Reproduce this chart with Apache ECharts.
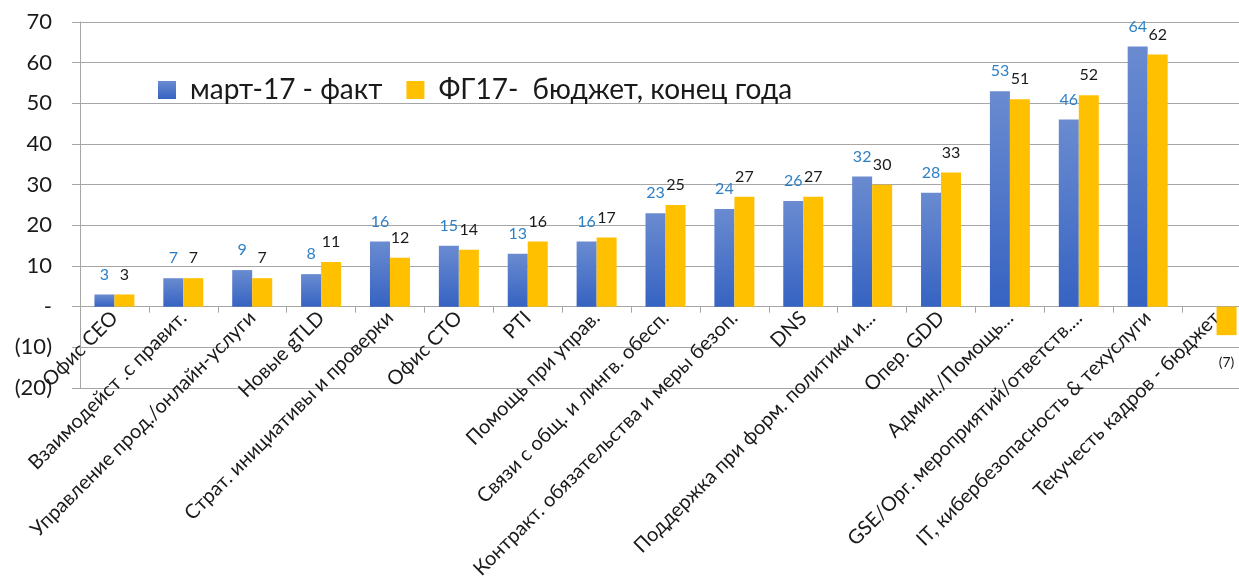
<!DOCTYPE html>
<html>
<head>
<meta charset="utf-8">
<script src="https://cdn.jsdelivr.net/npm/echarts@6/dist/echarts.min.js"></script>
<style>
  html, body { margin: 0; padding: 0; background: #fff; }
  #chart { width: 1239px; height: 584px; }
</style>
</head>
<body>
<div id="chart"></div>
<script>
var categories = [
  'Офис CEO',
  'Взаимодейст .с правит.',
  'Управление прод./онлайн-услуги',
  'Новые gTLD',
  'Страт. инициативы и проверки',
  'Офис CTO',
  'PTI',
  'Помощь при управ.',
  'Связи с общ. и лингв. обесп.',
  'Контракт. обязательства и меры безоп.',
  'DNS',
  'Поддержка при форм. политики и...',
  'Опер. GDD',
  'Админ./Помощь...',
  'GSE/Орг. мероприятий/ответств....',
  'IT, кибербезопасность & техуслуги',
  'Текучесть кадров - бюджет'
];
var factMarch = [3, 7, 9, 8, 16, 15, 13, 16, 23, 24, 26, 32, 28, 53, 46, 64, null];
var budgetFY = [3, 7, 7, 11, 12, 14, 16, 17, 25, 27, 27, 30, 33, 51, 52, 62, -7];

var seriesNames = ['март-17 - факт', 'ФГ17-  бюджет, конец года'];

// формат как в Excel: 0 -> "-", отрицательные в скобках
function fmt(v) {
  if (v === 0) return '-';
  if (v < 0) return '(' + Math.abs(v) + ')';
  return String(v);
}

var font = 'Lato, "Noto Sans", sans-serif';
var chart = echarts.init(document.getElementById('chart'));

var yMin = -20, yMax = 70;
var gridTop = 22, gridBottom = 196;
var plotH = 584 - gridTop - gridBottom;
// сдвиг оси X вверх до нуля
var zeroShift = plotH * (0 - yMin) / (yMax - yMin);

chart.setOption({
  animation: false,
  textStyle: { fontFamily: font },
  grid: { left: 80, right: -12, top: gridTop, bottom: gridBottom, containLabel: false, outerBoundsMode: 'none' },
  legend: {
    data: seriesNames,
    left: 153,
    top: 71,
    itemWidth: 18,
    itemHeight: 18,
    itemGap: 24,
    icon: 'rect',
    textStyle: { fontSize: 28, color: '#1a1a1a', fontFamily: font, padding: [0, 0, 0, 9] }
  },
  xAxis: {
    type: 'category',
    data: categories,
    position: 'bottom',
    offset: -zeroShift,
    axisLine: { onZero: false, lineStyle: { color: '#a6a6a6', width: 1 } },
    axisTick: { show: true, length: 6, lineStyle: { color: '#a6a6a6' } },
    axisLabel: {
      interval: 0,
      rotate: 45,
      fontSize: 20,
      color: '#1a1a1a',
      margin: 8,
      fontFamily: font
    }
  },
  yAxis: {
    type: 'value',
    min: yMin,
    max: yMax,
    interval: 10,
    axisLine: { show: true, lineStyle: { color: '#a6a6a6', width: 1 } },
    axisTick: { show: true, length: 8, inside: false, lineStyle: { color: '#a6a6a6' } },
    splitLine: { lineStyle: { color: '#a6a6a6', width: 1 } },
    axisLabel: {
      fontSize: 22,
      color: '#1a1a1a',
      margin: 28,
      fontFamily: font,
      formatter: fmt
    }
  },
  series: [
    {
      name: seriesNames[0],
      type: 'bar',
      data: factMarch,
      barWidth: 20,
      barGap: '0%',
      itemStyle: {
        color: new echarts.graphic.LinearGradient(0, 0, 0, 1, [
          { offset: 0, color: '#6a8bd0' },
          { offset: 1, color: '#3663c2' }
        ])
      },
      label: {
        show: true,
        position: 'top',
        distance: 12,
        fontSize: 16,
        color: '#2e80c6',
        fontFamily: font,
        formatter: function (p) { return fmt(p.value); }
      }
    },
    {
      name: seriesNames[1],
      type: 'bar',
      data: budgetFY.map(function (v) {
        return v < 0
          ? { value: v, label: { position: 'bottom', distance: 20, fontSize: 14 } }
          : v;
      }),
      barWidth: 20,
      itemStyle: { color: '#ffc000' },
      label: {
        show: true,
        position: 'top',
        distance: 12,
        fontSize: 16,
        color: '#1a1a1a',
        fontFamily: font,
        formatter: function (p) { return fmt(p.value); }
      }
    }
  ]
});
</script>
</body>
</html>
